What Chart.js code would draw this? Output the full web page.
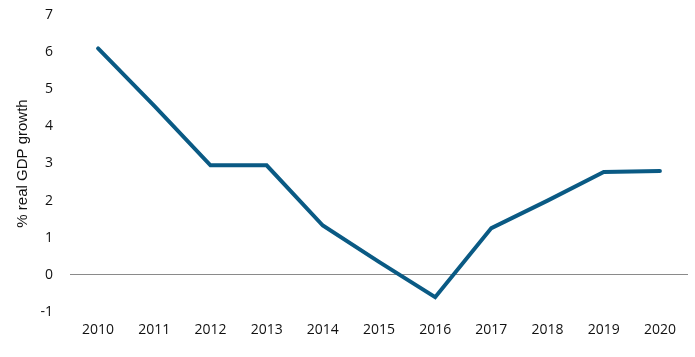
<!DOCTYPE html>
<html><head><meta charset="utf-8">
<script src="https://cdn.jsdelivr.net/npm/chart.js@4/dist/chart.umd.min.js"></script>
<style>html,body{margin:0;padding:0;background:#fff;}canvas{display:block;}</style>
</head><body>
<canvas id="c" width="695" height="357"></canvas>
<script>
const years = ['2010','2011','2012','2013','2014','2015','2016','2017','2018','2019','2020'];
const gdpGrowth = [6.1, 4.55, 2.95, 2.95, 1.33, 0.35, -0.6, 1.26, 2.0, 2.77, 2.8];
const yTicks = [-1, 0, 1, 2, 3, 4, 5, 6, 7];
const yTitle = '% real GDP growth';

const FONT = '"Open Sans", Lato, sans-serif';
new Chart(document.getElementById('c'), {
  type: 'line',
  data: { labels: years, datasets: [{
    data: gdpGrowth, borderColor: '#0a5a84', borderWidth: 4,
    pointRadius: 0, tension: 0, fill: false, borderCapStyle: 'round', borderJoinStyle: 'miter'
  }]},
  options: {
    responsive: false, animation: false,
    layout: { padding: { top: 15, right: 7, bottom: 0, left: 0 } },
    plugins: { legend: { display: false }, tooltip: { enabled: false } },
    scales: {
      x: {
        offset: true,
        grid: { display: false },
        border: { display: false },
        ticks: { color: '#111', font: { family: FONT, size: 14 }, padding: 2, maxRotation: 0 },
        afterFit: s => { s.height = 45; s.paddingLeft = 0; s.paddingRight = 0; }
      },
      y: {
        min: -1, max: 7,
        afterBuildTicks: s => { s.ticks = yTicks.map(v => ({ value: v })); },
        grid: { color: ctx => ctx.tick && ctx.tick.value === 0 ? '#8a8a8a' : 'rgba(0,0,0,0)', lineWidth: 1, drawTicks: false },
        border: { display: false },
        ticks: { color: '#111', font: { family: FONT, size: 14 }, padding: 17 },
        title: { display: true, text: yTitle, color: '#111', font: { family: '"Liberation Sans", Arial, sans-serif', size: 15 }, padding: { top: 14, bottom: 0 } },
        afterFit: s => { s.width = 70; s.paddingTop = 0; s.paddingBottom = 0; }
      }
    }
  }
});
</script>
</body></html>
